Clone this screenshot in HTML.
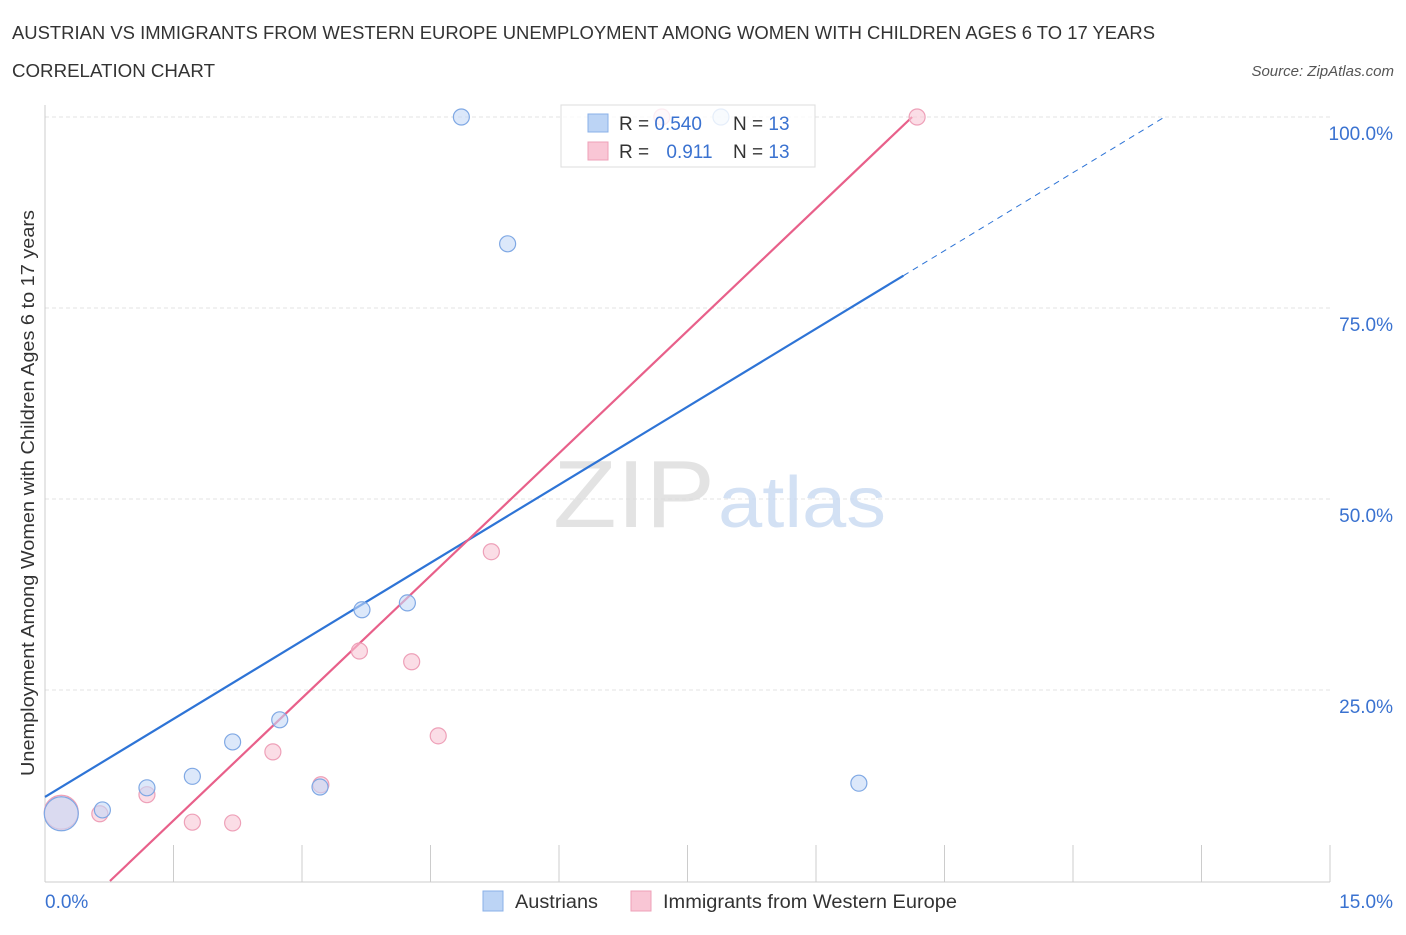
<!DOCTYPE html>
<html><head><meta charset="utf-8"><style>
body{margin:0;background:#fff;font-family:"Liberation Sans",sans-serif;}
svg text{font-family:"Liberation Sans",sans-serif;}
</style></head><body>
<svg width="1406" height="930" xmlns="http://www.w3.org/2000/svg">
<text x="12" y="39" font-size="18" fill="#333" textLength="1143" lengthAdjust="spacingAndGlyphs">AUSTRIAN VS IMMIGRANTS FROM WESTERN EUROPE UNEMPLOYMENT AMONG WOMEN WITH CHILDREN AGES 6 TO 17 YEARS</text>
<text x="12" y="77" font-size="18" fill="#333" textLength="203" lengthAdjust="spacingAndGlyphs">CORRELATION CHART</text>
<text x="1394" y="76" font-size="15" fill="#555" font-style="italic" text-anchor="end">Source: ZipAtlas.com</text>
<g id="grid"></g>
<g><text x="553" y="527" font-size="96" fill="#ddd" font-family="Liberation Serif" opacity="0.8" textLength="162" lengthAdjust="spacingAndGlyphs">ZIP</text><text x="718" y="527" font-size="72" fill="#c9daf2" opacity="0.8" textLength="168" lengthAdjust="spacingAndGlyphs">atlas</text></g>
<line x1="45" y1="105" x2="45" y2="882" stroke="#ccc"/>
<line x1="45" y1="882" x2="1330" y2="882" stroke="#ccc"/>
<g id="axes"></g>
<text transform="translate(34,493) rotate(-90)" font-size="18" fill="#333" text-anchor="middle" textLength="566" lengthAdjust="spacingAndGlyphs">Unemployment Among Women with Children Ages 6 to 17 years</text>
<g id="lines"></g>
<g id="pts"></g>
<g>
<rect x="561" y="105" width="254" height="62" fill="#fff" fill-opacity="0.8" stroke="#ddd"/>
<rect x="588" y="114" width="20" height="18" fill="#bcd4f5" stroke="#8ab0e8"/>
<rect x="588" y="142" width="20" height="18" fill="#f9c6d5" stroke="#eea0b8"/>
<text x="619" y="130" font-size="19" fill="#333">R = <tspan fill="#3a72d0">0.540</tspan></text>
<text x="733" y="130" font-size="19" fill="#333">N = <tspan fill="#3a72d0">13</tspan></text>
<text x="619" y="158" font-size="19" fill="#333">R = <tspan fill="#3a72d0" dx="12">0.911</tspan></text>
<text x="733" y="158" font-size="19" fill="#333">N = <tspan fill="#3a72d0">13</tspan></text>
</g>
<g>
<rect x="483" y="891" width="20" height="20" fill="#bcd4f5" stroke="#8ab0e8"/>
<text x="515" y="908" font-size="19" fill="#333" textLength="83" lengthAdjust="spacingAndGlyphs">Austrians</text>
<rect x="631" y="891" width="20" height="20" fill="#f9c6d5" stroke="#eea0b8"/>
<text x="663" y="908" font-size="19" fill="#333" textLength="294" lengthAdjust="spacingAndGlyphs">Immigrants from Western Europe</text>
</g>
</svg>
<script>
const yTicks=[25,50,75,100];
const yTickLabels=["25.0%","50.0%","75.0%","100.0%"];
const xTickCount=10;
const blueX=[0.19,0.67,1.19,1.72,2.19,2.74,3.21,3.70,4.23,4.86,5.40,7.89,9.50];
const blueY=[8.8,9.3,12.2,13.7,18.2,21.1,12.3,35.5,36.4,100,83.4,100,12.8];
const blueR=[17,8,8,8,8,8,8,8,8,8,8,8,8];
const pinkX=[0.19,0.64,1.19,1.72,2.19,2.66,3.22,3.67,4.28,4.59,5.21,7.20,10.18];
const pinkY=[9.0,8.8,11.3,7.7,7.6,16.9,12.6,30.1,28.7,19.0,43.1,100,100];
const pinkR=[17,8,8,8,8,8,8,8,8,8,8,8,8];
const blueFit=[11.0,6.81]; const pinkFit=[-8.1,10.68];
const xs=v=>45+v*85.67, ys=v=>881-v*7.64;
const NS="http://www.w3.org/2000/svg";
function mk(p,t,a){const e=document.createElementNS(NS,t);for(const k in a)e.setAttribute(k,a[k]);document.getElementById(p).appendChild(e);return e;}
yTicks.forEach((v,i)=>{
 const l=mk('grid','line',{x1:45,x2:1330,y1:ys(v),y2:ys(v),stroke:'#e3e3e3','stroke-dasharray':'4,3'});
 
 
 const t=mk('axes','text',{x:1393,y:ys(v)+23,'font-size':19,fill:'#3a72d0','text-anchor':'end'});
 t.textContent=yTickLabels[i];
 
 
});
for(let i=1;i<=xTickCount;i++){const x=45+i*128.5;const l=mk('axes','line',{x1:x,x2:x,y1:845,y2:882,stroke:'#ccc'});
 
 }
let t=mk('axes','text',{x:45,y:908,'font-size':19,fill:'#3a72d0'});t.textContent='0.0%';


t=mk('axes','text',{x:1393,y:908,'font-size':19,fill:'#3a72d0','text-anchor':'end'});t.textContent='15.0%';


let l=mk('lines','line',{x1:xs(0),y1:ys(blueFit[0]),x2:xs(10.02),y2:ys(blueFit[0]+blueFit[1]*10.02),stroke:'#2e74d6','stroke-width':2.2});


const xe=(100-blueFit[0])/blueFit[1];
l=mk('lines','line',{x1:xs(10.02),y1:ys(blueFit[0]+blueFit[1]*10.02),x2:xs(xe),y2:ys(100),stroke:'#2e74d6','stroke-width':1,'stroke-dasharray':'6,5'});


const x0=-pinkFit[0]/pinkFit[1], x1=(100-pinkFit[0])/pinkFit[1];
l=mk('lines','line',{x1:xs(x0),y1:ys(0),x2:xs(x1),y2:ys(100),stroke:'#e8608a','stroke-width':2.2});


function pts(X,Y,R,fill,stroke,name){X.forEach((x,i)=>{const c=mk('pts','circle',{cx:xs(x),cy:ys(Y[i]),r:R[i],fill:fill,stroke:stroke,'stroke-width':1.2,'fill-opacity':0.6});
 
 });}
pts(pinkX,pinkY,pinkR,'#f9c6d5','#eea0b8','immigrants-point');
pts(blueX,blueY,blueR,'#c4d9f6','#7fa8e4','austrians-point');
</script>
</body></html>
